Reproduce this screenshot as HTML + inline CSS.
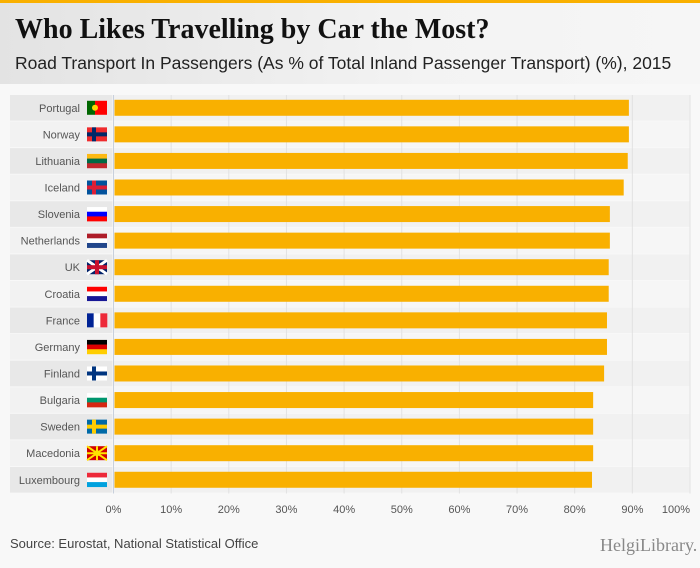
<!DOCTYPE html>
<html><head><meta charset="utf-8"><style>
body{margin:0;width:700px;height:568px;overflow:hidden;background:#f8f8f8;font-family:"Liberation Sans","DejaVu Sans",sans-serif;position:relative}
#hdr{position:absolute;left:0;top:0;width:700px;height:84px;background:linear-gradient(90deg,#e3e3e3,#f3f3f3 60%,#f6f6f6)}
#topbar{position:absolute;left:0;top:0;width:700px;height:3px;background:#f9b000}
#title{position:absolute;left:15px;top:14px;font-family:"Liberation Serif",serif;font-weight:bold;font-size:28px;color:#111;white-space:nowrap}
#sub{position:absolute;left:15px;top:53px;font-size:17.5px;color:#222;white-space:nowrap}
#src{position:absolute;left:10px;top:536px;font-size:13px;color:#444}
#logo{position:absolute;left:600px;top:535px;font-size:18px;color:#888;font-family:"Liberation Serif",serif}
</style></head><body>
<div id="hdr"></div>
<div id="topbar"></div>
<div id="title">Who Likes Travelling by Car the Most?</div>
<div id="sub">Road Transport In Passengers (As % of Total Inland Passenger Transport) (%), 2015</div>
<svg id="chart" width="700" height="568" style="position:absolute;left:0;top:0"></svg>
<div id="src">Source: Eurostat, National Statistical Office</div>
<div id="logo">HelgiLibrary.</div>
<script>
const countries=["Portugal","Norway","Lithuania","Iceland","Slovenia","Netherlands","UK","Croatia","France","Germany","Finland","Bulgaria","Sweden","Macedonia","Luxembourg"];
const values=[89.4,89.4,89.2,88.5,86.1,86.1,85.9,85.9,85.6,85.6,85.1,83.2,83.2,83.2,83.0];
const ticks=[0,10,20,30,40,50,60,70,80,90,100];
const flags=[["#006600","#ff0000","","v2"],["#ef2b2d","#002868","","cross"],["#fdb913","#006a44","#c1272d","h"],["#02529c","#dc1e35","","cross"],["#fff","#0000ff","#ff0000","h"],["#ae1c28","#fff","#21468b","h"],["#012169","#c8102e","","uk"],["#ff0000","#fff","#171796","h"],["#002395","#fff","#ed2939","v"],["#000","#dd0000","#ffce00","h"],["#fff","#003580","","cross"],["#fff","#00966e","#d62612","h"],["#006aa7","#fecc00","","cross"],["#d20000","#ffe600","","sun"],["#ed2939","#fff","#00a1de","h"]];
const svg=document.getElementById('chart');const NS="http://www.w3.org/2000/svg";
const x0=113.5,sc=5.765,y0=95,step=26.57,bh=16;
const X=v=>x0+v*sc, Y=i=>y0+i*step;
function mk(t,a,p){const e=document.createElementNS(NS,t);for(const k in a)e.setAttribute(k,a[k]);(p||svg).appendChild(e);return e;}
countries.forEach((c,i)=>{
 const bg=mk('rect',{x:10,y:Y(i),width:680,height:step-1,fill:i%2==0?'#f1f1f1':'#f6f6f6'});
 
 const lb=mk('rect',{x:10,y:Y(i),width:102,height:step-1,fill:i%2==0?'#e8e8e8':'#f2f2f2'});
 
});
ticks.forEach(t=>{
 const l=mk('line',{x1:X(t),x2:X(t),y1:y0,y2:y0+countries.length*step,stroke:t==0?'#c8d0dc':'#e2e2e2','stroke-width':1});
 
 const tx=mk('text',{x:t==100?X(t)-14:X(t),y:513,'text-anchor':'middle','font-size':11,fill:'#555'});
 tx.textContent=t+'%';
});
countries.forEach((c,i)=>{
 const cy=Y(i)+(step-1)/2;
 const t=mk('text',{x:80,y:cy+4,'text-anchor':'end','font-size':11,fill:'#555'});
 t.textContent=c;
 const g=mk('g',{});
 const f=flags[i],fx=87,fy=cy-7,fw=20,fh=14,ty=f[3];
 if(ty=='cross'){mk('rect',{x:fx,y:fy,width:fw,height:fh,fill:f[0]},g);mk('rect',{x:fx+5,y:fy,width:4,height:fh,fill:f[1]},g);mk('rect',{x:fx,y:fy+5,width:fw,height:4,fill:f[1]},g);}
 else if(ty=='v'){[0,1,2].forEach(k=>mk('rect',{x:fx+k*fw/3,y:fy,width:fw/3+.3,height:fh,fill:f[k]},g));}
 else if(ty=='v2'){mk('rect',{x:fx,y:fy,width:8,height:fh,fill:f[0]},g);mk('rect',{x:fx+8,y:fy,width:12,height:fh,fill:f[1]},g);mk('circle',{cx:fx+8,cy:cy,r:3,fill:'#ffd700'},g);}
 else if(ty=='uk'){mk('rect',{x:fx,y:fy,width:fw,height:fh,fill:f[0]},g);mk('path',{d:`M${fx} ${fy}L${fx+fw} ${fy+fh}M${fx+fw} ${fy}L${fx} ${fy+fh}`,stroke:'#fff','stroke-width':3},g);mk('rect',{x:fx+8,y:fy,width:4,height:fh,fill:f[1]},g);mk('rect',{x:fx,y:fy+5,width:fw,height:4,fill:f[1]},g);}
 else if(ty=='sun'){mk('rect',{x:fx,y:fy,width:fw,height:fh,fill:f[0]},g);mk('path',{d:`M${fx} ${fy}L${fx+fw} ${fy+fh}M${fx+fw} ${fy}L${fx} ${fy+fh}M${fx+10} ${fy}V${fy+fh}M${fx} ${cy}H${fx+fw}`,stroke:f[1],'stroke-width':2},g);mk('circle',{cx:fx+10,cy:cy,r:3,fill:f[1]},g);}
 else {[0,1,2].forEach(k=>mk('rect',{x:fx,y:fy+k*fh/3,width:fw,height:fh/3+.3,fill:f[k]},g));}
 const b=mk('rect',{x:X(0)+1,y:cy-bh/2,width:X(values[i])-X(0)-1,height:bh,fill:'#f9b000'});
 
});
</script>
</body></html>
